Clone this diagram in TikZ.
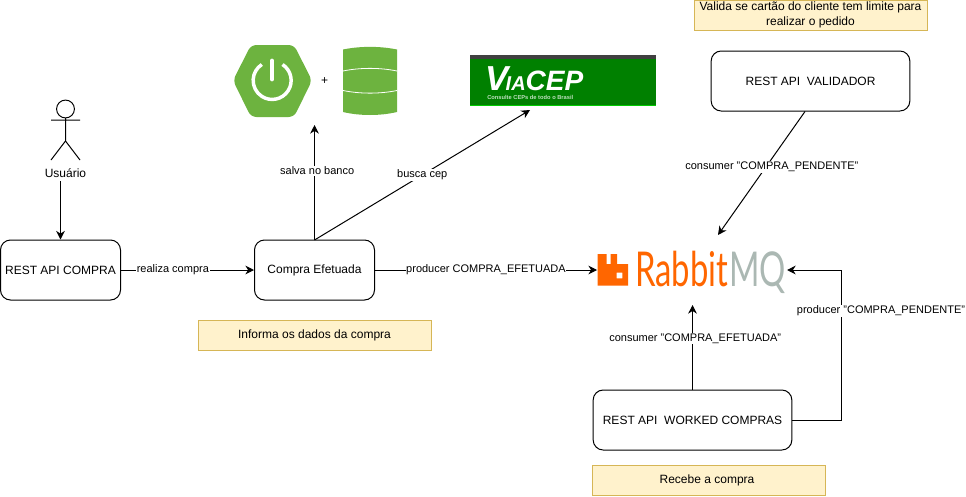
\documentclass[tikz,border=0pt]{standalone}
\usepackage{fontspec}
\setmainfont{Liberation Sans}
\newfontfamily\logofont{Lato}
\usepackage{xcolor}
\usetikzlibrary{arrows.meta}
\definecolor{notefill}{HTML}{FFF2CC}
\definecolor{notedraw}{HTML}{D6B656}
\definecolor{springgreen}{HTML}{6DB33F}
\definecolor{viagreen}{HTML}{008000}
\definecolor{rabbitorange}{HTML}{FF6600}
\definecolor{rabbitgrey}{HTML}{ABB8B3}

\tikzset{
  apibox/.style={draw, rectangle, rounded corners=7.5pt, line width=0.75pt, font=\fontsize{9}{11}\selectfont, align=center},
  notebox/.style={draw=notedraw, fill=notefill, rectangle, line width=0.5pt, minimum width=175pt, minimum height=22.5pt, inner sep=1pt, font=\fontsize{9}{11}\selectfont, align=center},
  edgelabel/.style={fill=white, inner sep=0.5pt, font=\fontsize{8.25}{10}\selectfont, align=center},
  conn/.style={->, line width=0.75pt}
}

\begin{document}
\begin{tikzpicture}[>={Stealth[length=6.5pt,width=6.5pt]}, x=0.75pt, y=-0.75pt]
  \useasboundingbox (0,0) rectangle (966,496);

  % Boxes
  \node[apibox, minimum width=90pt, minimum height=45pt] (restcompra) at (60.5,270) {REST API COMPRA};
  \node[apibox, minimum width=90pt, minimum height=45pt] (efetuada) at (314.5,270) {Compra Efetuada};
  \node[apibox, minimum width=149pt, minimum height=45pt] (validador) at (810.5,81) {REST API\ \ VALIDADOR};
  \node[apibox, minimum width=149pt, minimum height=45pt] (worked) at (692.5,420) {REST API\ \ WORKED COMPRAS};

  % Notes
  \node[notebox] (notevalida) at (810.5,15) {Valida se cart\~ao do cliente tem limite para\\realizar o pedido};
  \node[notebox] (noteinforma) at (314.5,335) {Informa os dados da compra};
  \node[notebox] (noterecebe) at (709,480) {\kern-3pt Recebe a compra};

  % Actor
  \draw[line width=0.75pt] (65.5,109) circle (6.7pt);
  \draw[line width=0.75pt] (65.5,118) -- (65.5,141) (51,120) -- (80,120) (51,160) -- (65.5,141) -- (80,160);
  \node[font=\fontsize{9}{11}\selectfont, inner sep=1pt] (usuario) at (65.5,173) {Usu\'ario};
  \coordinate (usuariobottom) at (60.5,181);

  % Spring logo
  \fill[springgreen, rounded corners=4pt] (233,80.5) -- (251,45) -- (294,45) -- (312,80.5) -- (294,117) -- (251,117) -- cycle;
  \draw[white, line width=2.6pt] (282.5,64.5) arc[start angle=-57, end angle=237, radius=19];
  \draw[white, line width=3.6pt, line cap=round] (272,61) -- (272,79);
  \node[font=\fontsize{9}{11}\selectfont, inner sep=0pt] (plus) at (324.5,81) {+};
  \coordinate (springtop) at (314,125);

  % Database
  \fill[springgreen] (343,49.5) .. controls (360,46) and (380,46) .. (397,49.5) -- (397,112) .. controls (380,116) and (360,116) .. (343,112) -- cycle;
  \draw[white, line width=0.6pt] (343,71) .. controls (360,67.5) and (380,67.5) .. (397,71);
  \draw[white, line width=0.6pt] (343,90.5) .. controls (360,94) and (380,94) .. (397,90.5);

  % ViaCEP logo
  \fill[viagreen] (470,55) rectangle (656,105.5);
  \fill[black!75] (470,55) rectangle (656,59);
  \fill[green!60!viagreen] (470,105) rectangle (656,105.8);
  \node[white, font=\fontsize{21}{24}\selectfont\bfseries\itshape, inner sep=0pt, anchor=base west] (viacep) at (485,90) {{\fontsize{26}{26}\selectfont V}\kern-2pt{\fontsize{15}{20}\selectfont IA}CEP};
  \node[white!75!viagreen, font=\fontsize{4.3}{5}\selectfont\bfseries, inner sep=0pt, anchor=west] (viasub) at (487,97) {Consulte CEPs de todo o Brasil};
  \coordinate (viatip) at (530,110);

  % RabbitMQ logo
  \fill[rabbitorange, even odd rule] (597.5,254) -- (606.5,254) -- (606.5,264) -- (610.5,264) -- (610.5,254) -- (617,254) -- (617,264) -- (628,264) -- (628,285.5) -- (597.5,285.5) -- cycle (616.7,272.7) rectangle (622.3,278.3);
  \node[rabbitorange, font=\logofont\fontsize{30}{32}\selectfont, inner sep=0pt, anchor=base west] (rabbit) at (635,286) {\scalebox{0.82}[1.2]{Rabbit}};
  \node[rabbitgrey, font=\logofont\fontsize{30}{32}\selectfont, inner sep=0pt, anchor=base west] (mq) at (729,286) {\scalebox{0.82}[1.2]{MQ}};
  \coordinate (rabbitleft) at (597,270);
  \coordinate (rabbitright) at (787,270);
  \coordinate (rabbittop) at (718,235);
  \coordinate (rabbitbottom) at (692.5,305);
  \coordinate (workedcorner) at (841,420);
  \coordinate (efetuadatop) at (314.5,240);

  % Connectors
  \draw[conn] (usuariobottom) -- (usuariobottom |- restcompra.north);
  \draw[conn] (restcompra) -- (efetuada) node[edgelabel, pos=0.39] {realiza compra};
  \draw[conn] (efetuadatop) -- (efetuadatop |- springtop) node[edgelabel, pos=0.6, xshift=2pt] {salva no banco};
  \draw[conn] (efetuadatop) -- (viatip) node[edgelabel, pos=0.5] {busca cep};
  \draw[conn] (efetuada.east) -- (rabbitleft) node[edgelabel, midway] {producer COMPRA\_EFETUADA};
  \draw[conn] (validador.south) ++(-5.5,0) -- (rabbittop) node[edgelabel, pos=0.45, xshift=4.5pt] {consumer "COMPRA\_PENDENTE"};
  \draw[conn] (worked.north) -- (rabbitbottom) node[edgelabel, pos=0.6, xshift=2pt] {consumer "COMPRA\_EFETUADA"};
  \draw[conn] (worked.east) -- (workedcorner) -- (workedcorner |- rabbitright) -- (rabbitright);
  \node[edgelabel] (labelpendente) at (881,311) {producer "COMPRA\_PENDENTE"};
\end{tikzpicture}
\end{document}
